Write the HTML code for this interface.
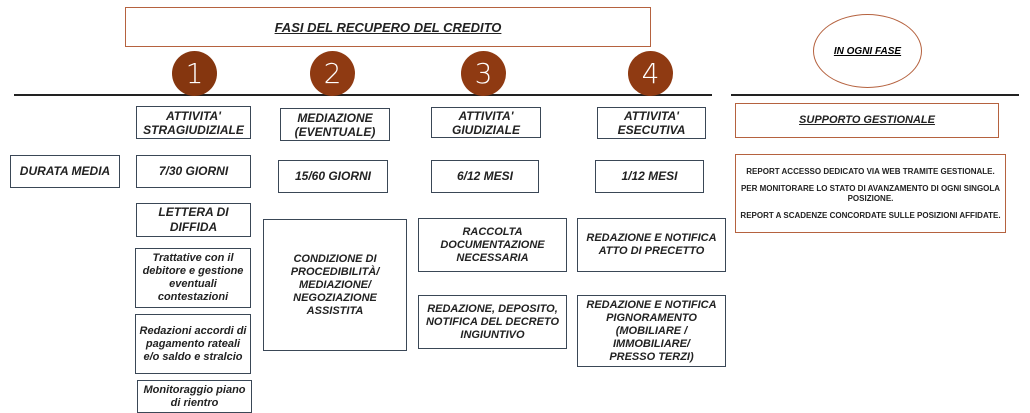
<!DOCTYPE html>
<html><head><meta charset="utf-8"><style>
body{margin:0;width:1030px;height:413px;background:#fff;position:relative;overflow:hidden;font-family:"Liberation Sans",Arial,sans-serif;}
.b{position:absolute;box-sizing:border-box;border:1.5px solid #3a4756;display:flex;align-items:center;justify-content:center;text-align:center;font-weight:bold;font-style:italic;color:#222;font-size:11px;line-height:13px;}
.o{border-color:#b5623f;}
.c{position:absolute;width:45px;height:45px;border-radius:50%;background:#8f3a12;color:#fff;font-size:28px;display:flex;align-items:center;justify-content:center;font-family:"DejaVu Sans",sans-serif;font-weight:300;}
.l{position:absolute;height:2px;background:#222;}
u{text-decoration:underline;}
</style></head><body>
<div class="b o" style="left:125px;top:7px;width:526px;height:40px;font-size:13px;"><u>FASI DEL RECUPERO DEL CREDITO</u></div>
<div class="l" style="left:14px;top:94px;width:698px;"></div>
<div class="l" style="left:731px;top:94px;width:288px;"></div>
<div class="c" style="left:172px;top:51px;background:#85360f">1</div>
<div class="c" style="left:310px;top:51px;">2</div>
<div class="c" style="left:461px;top:51px;">3</div>
<div class="c" style="left:628px;top:51px;">4</div>
<div style="position:absolute;left:813px;top:14px;width:109px;height:74px;box-sizing:border-box;border:1.5px solid #b5623f;border-radius:50%;display:flex;align-items:center;justify-content:center;font-size:10px;font-weight:bold;font-style:italic;"><u>IN OGNI FASE</u></div>

<div class="b" style="left:136px;top:106px;width:115px;height:33px;font-size:12px;line-height:14px;">ATTIVITA'<br>STRAGIUDIZIALE</div>
<div class="b" style="left:280px;top:108px;width:110px;height:33px;font-size:12px;line-height:14px;">MEDIAZIONE<br>(EVENTUALE)</div>
<div class="b" style="left:431px;top:107px;width:110px;height:31px;font-size:12px;line-height:14px;">ATTIVITA'<br>GIUDIZIALE</div>
<div class="b" style="left:597px;top:107px;width:109px;height:32px;font-size:12px;line-height:14px;">ATTIVITA'<br>ESECUTIVA</div>

<div class="b" style="left:10px;top:155px;width:110px;height:33px;font-size:12px;">DURATA MEDIA</div>
<div class="b" style="left:136px;top:155px;width:115px;height:33px;font-size:12px;">7/30 GIORNI</div>
<div class="b" style="left:278px;top:160px;width:110px;height:33px;font-size:12px;">15/60 GIORNI</div>
<div class="b" style="left:431px;top:160px;width:108px;height:33px;font-size:12px;">6/12 MESI</div>
<div class="b" style="left:595px;top:160px;width:109px;height:33px;font-size:12px;">1/12 MESI</div>

<div class="b" style="left:136px;top:203px;width:115px;height:34px;font-size:12px;line-height:15px;">LETTERA DI<br>DIFFIDA</div>
<div class="b" style="left:135px;top:248px;width:116px;height:60px;">Trattative con il<br>debitore e gestione<br>eventuali<br>contestazioni</div>
<div class="b" style="left:135px;top:314px;width:116px;height:60px;">Redazioni accordi di<br>pagamento rateali<br>e/o saldo e stralcio</div>
<div class="b" style="left:137px;top:380px;width:115px;height:33px;">Monitoraggio piano<br>di rientro</div>

<div class="b" style="left:263px;top:219px;width:144px;height:132px;">CONDIZIONE DI<br>PROCEDIBILITÀ/<br>MEDIAZIONE/<br>NEGOZIAZIONE<br>ASSISTITA</div>
<div class="b" style="left:418px;top:218px;width:149px;height:54px;">RACCOLTA<br>DOCUMENTAZIONE<br>NECESSARIA</div>
<div class="b" style="left:418px;top:295px;width:149px;height:54px;">REDAZIONE, DEPOSITO,<br>NOTIFICA DEL DECRETO<br>INGIUNTIVO</div>
<div class="b" style="left:577px;top:218px;width:149px;height:54px;">REDAZIONE E NOTIFICA<br>ATTO DI PRECETTO</div>
<div class="b" style="left:577px;top:295px;width:149px;height:72px;">REDAZIONE E NOTIFICA<br>PIGNORAMENTO<br>(MOBILIARE /<br>IMMOBILIARE/<br>PRESSO TERZI)</div>

<div class="b o" style="left:735px;top:103px;width:264px;height:35px;font-size:11px;"><u>SUPPORTO GESTIONALE</u></div>
<div class="b o" style="left:735px;top:154px;width:271px;height:79px;font-size:8px;line-height:10px;font-style:normal;flex-direction:column;">
<div>REPORT ACCESSO DEDICATO VIA WEB TRAMITE GESTIONALE.</div>
<div style="margin-top:7px">PER MONITORARE LO STATO DI AVANZAMENTO DI OGNI SINGOLA<br>POSIZIONE.</div>
<div style="margin-top:7px">REPORT A SCADENZE CONCORDATE SULLE POSIZIONI AFFIDATE.</div>
</div>
</body></html>
